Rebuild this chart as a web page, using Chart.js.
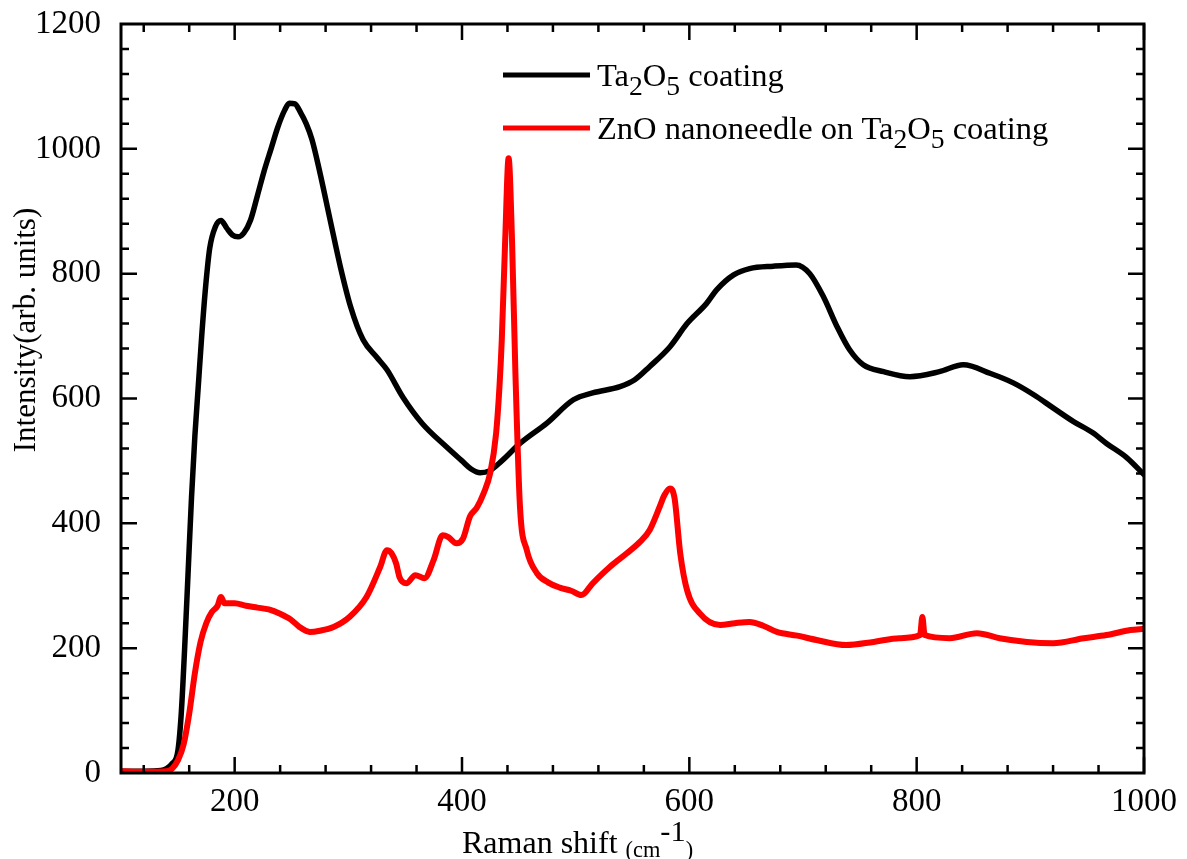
<!DOCTYPE html>
<html>
<head>
<meta charset="utf-8">
<script src="https://cdn.jsdelivr.net/npm/chart.js@4.4.1/dist/chart.umd.min.js"></script>
<style>
  html, body { margin: 0; padding: 0; background: #fff; }
  #wrap { width: 1187px; height: 859px; }
</style>
</head>
<body>
<div id="wrap"><canvas id="ramanChart" width="1187" height="859"></canvas></div>
<script>
// Raman shift (cm-1) and intensity
const shiftTa2O5 = [100, 120, 135, 140, 145, 150, 153, 156, 159, 162, 165, 168, 171, 174, 178, 183, 188, 193, 198, 203,
  208, 214, 220, 226, 232, 238, 244, 248, 253, 258, 263, 268, 275, 284, 293, 302, 313, 325, 334, 348,
  365, 386, 400, 408, 416, 424, 435, 451, 475, 498, 515, 539, 552, 565, 583, 598, 615, 624, 639, 653,
  674, 694, 706, 718, 730, 741, 753, 771, 794, 820, 841, 865, 885, 903, 920, 938, 955, 967, 985, 1000];
const intensityTa2O5 = [3, 3, 4, 7, 15, 35, 95, 200, 320, 440, 540, 620, 700, 770, 840, 875, 885, 873, 862, 859,
  865, 886, 925, 965, 1000, 1035, 1062, 1073, 1072, 1058, 1040, 1015, 962, 886, 811, 747, 694, 666, 646, 602,
  560, 523, 500, 487, 481, 484, 500, 528, 561, 598, 609, 619, 630, 651, 683, 720, 752, 774, 798, 808,
  812, 814, 800, 763, 715, 678, 654, 643, 635, 643, 654, 640, 625, 606, 585, 563, 545, 528, 505, 478];

const shiftZnO = [100, 120, 140, 145, 150, 155, 160, 165, 170, 175, 180, 185, 188, 191, 200, 210, 220, 230, 240, 250,
  257, 266, 275, 287, 301, 316, 328, 334, 338, 342, 345, 351, 359, 367, 375, 383, 388, 395, 401, 407,
  413, 419, 425, 430, 433, 435, 438, 441, 444, 447, 451, 457, 466, 476, 486, 496, 505, 515, 530, 545,
  557, 565, 574, 578, 583, 587, 592, 598, 609, 627, 640, 653, 665, 677, 695, 712, 738, 762, 785, 803,
  805, 807, 829, 853, 873, 897, 920, 947, 967, 988, 1000];
const intensityZnO = [3, 2, 3, 7, 20, 45, 95, 160, 210, 240, 258, 268, 282, 272, 272, 268, 265, 262, 255, 245,
  234, 226, 228, 234, 250, 282, 330, 357, 352, 336, 314, 304, 317, 312, 341, 381, 378, 368, 376, 411,
  425, 448, 482, 544, 620, 694, 854, 985, 854, 640, 427, 357, 320, 305, 297, 292, 285, 304, 330, 352,
  371, 389, 427, 445, 456, 440, 352, 293, 256, 237, 240, 242, 236, 226, 220, 213, 205, 210, 216, 221,
  250, 221, 216, 224, 216, 210, 208, 216, 221, 229, 231];

const xTickLabels = [200, 400, 600, 800, 1000];
const yTickLabels = [0, 200, 400, 600, 800, 1000, 1200];

// legend entries, pieces marked 'sub' are subscripts
const legendTa2O5 = [['Ta', ''], ['2', 'sub'], ['O', ''], ['5', 'sub'], [' coating', '']];
const legendZnO = [['ZnO nanoneedle on Ta', ''], ['2', 'sub'], ['O', ''], ['5', 'sub'], [' coating', '']];

const SERIF = '"Liberation Serif", "Times New Roman", serif';

function toPoints(xs, ys) {
  return xs.map((x, i) => ({ x: x, y: ys[i] }));
}

function drawRich(ctx, parts, x, y, size) {
  parts.forEach(([txt, kind]) => {
    let s = size, dy = 0;
    if (kind === 'sub') { s = size * 0.85; dy = size * 0.28; }
    if (kind === 'sup') { s = size * 0.95; dy = -size * 0.38; }
    if (kind === 'small') { s = size * 0.7; dy = size * 0.12; }
    ctx.font = s + 'px ' + SERIF;
    ctx.fillText(txt, x, y + dy);
    x += ctx.measureText(txt).width;
  });
}

// box, inward ticks, axis titles and legend
const decorations = {
  id: 'decorations',
  afterDatasetsDraw(chart) {
    const { ctx, chartArea: a, scales: { x, y } } = chart;
    ctx.save();
    ctx.strokeStyle = '#000';
    ctx.lineWidth = 2.5;
    ctx.beginPath();
    for (let v = 120; v <= 1000; v += 40) {
      const px = x.getPixelForValue(v);
      const len = v % 200 === 0 ? 16 : 8;
      ctx.moveTo(px, a.bottom); ctx.lineTo(px, a.bottom - len);
      ctx.moveTo(px, a.top); ctx.lineTo(px, a.top + len);
    }
    for (let v = 40; v < 1200; v += 40) {
      const py = y.getPixelForValue(v);
      const len = v % 200 === 0 ? 16 : 8;
      ctx.moveTo(a.left, py); ctx.lineTo(a.left + len, py);
      ctx.moveTo(a.right, py); ctx.lineTo(a.right - len, py);
    }
    ctx.stroke();
    ctx.lineWidth = 3;
    ctx.strokeRect(a.left, a.top, a.right - a.left, a.bottom - a.top);

    // legend
    ctx.textBaseline = 'alphabetic';
    ctx.textAlign = 'left';
    const entries = [[legendTa2O5, '#000', 75], [legendZnO, '#ff0000', 128]];
    entries.forEach(([parts, color, ly]) => {
      ctx.strokeStyle = color;
      ctx.lineWidth = 5;
      ctx.beginPath();
      ctx.moveTo(503, ly); ctx.lineTo(590, ly);
      ctx.stroke();
      ctx.fillStyle = '#000';
      drawRich(ctx, parts, 597, ly + 11, 32.5);
    });

    // x title
    drawRich(ctx, [['Raman shift ', ''], ['(cm', 'small'], ['-1', 'sup'], [')', 'small']], 462, 853, 32);

    // y title
    ctx.translate(35, 330);
    ctx.rotate(-Math.PI / 2);
    ctx.textAlign = 'center';
    ctx.font = '31px ' + SERIF;
    ctx.fillText('Intensity(arb. units)', 0, 0);
    ctx.restore();
  }
};

window.addEventListener('DOMContentLoaded', () => {
  const ctx = document.getElementById('ramanChart').getContext('2d');
  new Chart(ctx, {
    type: 'line',
    data: {
      datasets: [{
        label: 'Ta2O5 coating',
        data: toPoints(shiftTa2O5, intensityTa2O5),
        borderColor: '#000',
        borderWidth: 5.5,
        order: 2
      }, {
        label: 'ZnO nanoneedle on Ta2O5 coating',
        data: toPoints(shiftZnO, intensityZnO),
        borderColor: '#ff0000',
        borderWidth: 6,
        order: 1
      }]
    },
    options: {
      responsive: false,
      animation: false,
      layout: { padding: { top: 24, right: 43, left: 0, bottom: 0 } },
      elements: {
        point: { radius: 0 },
        line: { cubicInterpolationMode: 'monotone', fill: false, borderCapStyle: 'round', borderJoinStyle: 'round' }
      },
      plugins: {
        legend: { display: false },
        tooltip: { enabled: false }
      },
      scales: {
        x: {
          type: 'linear',
          min: 100,
          max: 1000,
          grid: { display: false, drawTicks: false },
          border: { display: false },
          afterBuildTicks: s => { s.ticks = xTickLabels.map(v => ({ value: v })); },
          afterFit: s => { s.height = 86; s.paddingLeft = 0; s.paddingRight = 0; },
          ticks: {
            color: '#000',
            font: { family: SERIF, size: 33 },
            padding: 10,
            maxRotation: 0,
            autoSkip: false,
            callback: v => String(v)
          }
        },
        y: {
          min: 0,
          max: 1200,
          grid: { display: false, drawTicks: false },
          border: { display: false },
          afterBuildTicks: s => { s.ticks = yTickLabels.map(v => ({ value: v })); },
          afterFit: s => { s.width = 121; s.paddingTop = 0; s.paddingBottom = 0; },
          ticks: {
            color: '#000',
            font: { family: SERIF, size: 33 },
            padding: 20,
            autoSkip: false,
            callback: v => String(v)
          }
        }
      }
    },
    plugins: [decorations]
  });
});
</script>
</body>
</html>
